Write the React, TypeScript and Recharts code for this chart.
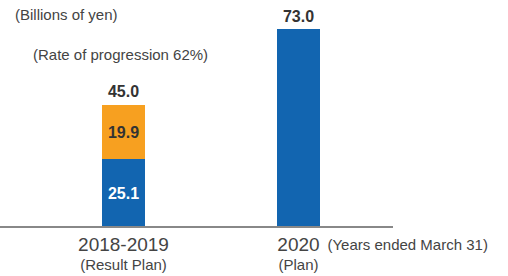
import { BarChart, Bar, XAxis, YAxis, LabelList } from 'recharts';

const categories = ['2018-2019', '2020'];
const subLabels = ['(Result Plan)', '(Plan)'];
const baseValues = [25.1, 73.0];
const addValues: (number | null)[] = [19.9, null];
const totals = [45.0, 73.0];

const BLUE = '#1265b0';
const ORANGE = '#f7a020';
const TEXT = '#444';
const FONT = 'Liberation Sans, Arial, sans-serif';
const NUM_FONT = '"Liberation Sans Narrow", "Arial Narrow", "Liberation Sans", Arial, sans-serif';

const data = categories.map((name, i) => ({
    name,
    base: baseValues[i],
    add: addValues[i],
}));

function YearTick(props: any) {
    const { x, y, payload, index } = props;
    return (
        <g>
            <text x={x} y={y + 16} textAnchor="middle" fill={TEXT} fontSize={19} fontFamily={FONT}>
                {payload.value}
            </text>
            <text x={x} y={y + 35} textAnchor="middle" fill={TEXT} fontSize={15} fontFamily={FONT}>
                {subLabels[index]}
            </text>
            {index === categories.length - 1 && (
                <text x={x + 29} y={y + 15} textAnchor="start" fill={TEXT} fontSize={15} fontFamily={FONT}>
                    (Years ended March 31)
                </text>
            )}
        </g>
    );
}

function baseLabel(props: any) {
    const { x, y, width, height, index, value } = props;
    if (addValues[index] == null) {
        return (
            <text x={x + width / 2} y={y - 7} textAnchor="middle" fill="#333" fontSize={16} fontWeight="bold" fontFamily={NUM_FONT}>
                {totals[index].toFixed(1)}
            </text>
        );
    }
    return (
        <text x={x + width / 2} y={y + height / 2 + 6} textAnchor="middle" fill="#fff" fontSize={16} fontWeight="bold" fontFamily={NUM_FONT}>
            {Number(value).toFixed(1)}
        </text>
    );
}

function addLabel(props: any) {
    const { x, y, width, height, index, value } = props;
    if (value == null) return null;
    return (
        <g>
            <text x={x + width / 2} y={y + height / 2 + 6} textAnchor="middle" fill="#333" fontSize={16} fontWeight="bold" fontFamily={NUM_FONT}>
                {Number(value).toFixed(1)}
            </text>
            <text x={x + width / 2} y={y - 8} textAnchor="middle" fill="#333" fontSize={16} fontWeight="bold" fontFamily={NUM_FONT}>
                {totals[index].toFixed(1)}
            </text>
        </g>
    );
}

export default function App() {
    return (
        <div style={{ position: 'absolute', left: 0, top: 0, width: 508, height: 276, background: '#fff' }}>
            <div style={{ position: 'absolute', left: 15, top: 6, fontSize: 15, color: TEXT, fontFamily: FONT, whiteSpace: 'nowrap' }}>
                (Billions of yen)
            </div>
            <div style={{ position: 'absolute', left: 33, top: 46, fontSize: 15, color: TEXT, fontFamily: FONT, whiteSpace: 'nowrap' }}>
                (Rate of progression 62%)
            </div>
            <BarChart width={508} height={276} data={data} margin={{ top: 10, right: 115, bottom: 0, left: 0 }}>
                <YAxis hide domain={[0, 80]} />
                <XAxis
                    dataKey="name"
                    height={49}
                    padding={{ left: 36, right: 7 }}
                    tickLine={false}
                    axisLine={{ stroke: '#888', strokeWidth: 2 }}
                    tick={<YearTick />}
                    interval={0}
                />
                <Bar dataKey="base" stackId="a" fill={BLUE} barSize={43} isAnimationActive={false}>
                    <LabelList dataKey="base" content={baseLabel} />
                </Bar>
                <Bar dataKey="add" stackId="a" fill={ORANGE} barSize={43} isAnimationActive={false}>
                    <LabelList dataKey="add" content={addLabel} />
                </Bar>
            </BarChart>
        </div>
    );
}
